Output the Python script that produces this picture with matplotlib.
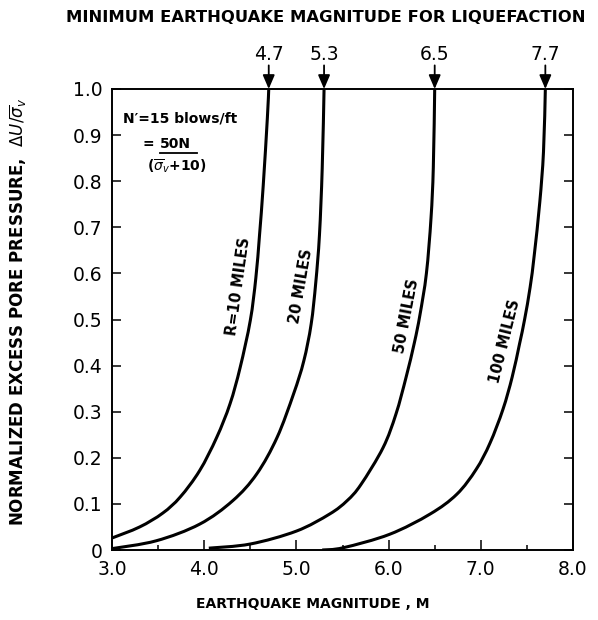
import matplotlib
matplotlib.use("Agg")
import matplotlib.pyplot as plt
from matplotlib.lines import Line2D
from matplotlib.path import Path
from matplotlib.patches import PathPatch

# ---- data ----
m10 = [3.0, 3.3, 3.55, 3.74, 3.95, 4.135, 4.28, 4.39, 4.50, 4.56, 4.60, 4.64, 4.685, 4.70]
p10 = [0.026, 0.05, 0.08, 0.115, 0.172, 0.244, 0.317, 0.396, 0.498, 0.59, 0.683, 0.79, 0.937, 1.0]

m20 = [3.0, 3.48, 3.95, 4.31, 4.57, 4.79, 4.97, 5.08, 5.16, 5.21, 5.25, 5.28, 5.30]
p20 = [0.003, 0.02, 0.056, 0.107, 0.165, 0.244, 0.339, 0.41, 0.49, 0.58, 0.683, 0.828, 1.0]

m50 = [4.05, 4.5, 5.0, 5.36, 5.55, 5.70, 5.94, 6.08, 6.19, 6.28, 6.34, 6.41, 6.46, 6.485, 6.50]
p50 = [0.004, 0.013, 0.041, 0.078, 0.107, 0.142, 0.222, 0.295, 0.375, 0.45, 0.51, 0.60, 0.72, 0.83, 1.0]

m100 = [5.28, 5.51, 6.01, 6.45, 6.74, 6.95, 7.10, 7.24, 7.34, 7.42, 7.475, 7.535, 7.58, 7.64, 7.68, 7.70]
p100 = [0.0, 0.005, 0.034, 0.078, 0.121, 0.175, 0.232, 0.305, 0.375, 0.447, 0.50, 0.57, 0.64, 0.755, 0.864, 1.0]

curve_labels = ["R=10 MILES", "20 MILES", "50 MILES", "100 MILES"]
min_magnitudes = [4.7, 5.3, 6.5, 7.7]

x_ticks = [3.0, 4.0, 5.0, 6.0, 7.0, 8.0]
x_tick_labels = ["3.0", "4.0", "5.0", "6.0", "7.0", "8.0"]
x_minor = [3.5, 4.5, 5.5, 6.5, 7.5]
y_ticks = [0.0, 0.1, 0.2, 0.3, 0.4, 0.5, 0.6, 0.7, 0.8, 0.9, 1.0]
y_tick_labels = ["0", "0.1", "0.2", "0.3", "0.4", "0.5", "0.6", "0.7", "0.8", "0.9", "1.0"]

plt.rcParams["font.family"] = ["DejaVu Sans"]
plt.rcParams["mathtext.fontset"] = "dejavusans"


def smooth_path(xs, ys):
    """Catmull-Rom curve through the data points, as cubic Bezier segments."""
    pts = list(zip(xs, ys))
    verts = [pts[0]]
    codes = [Path.MOVETO]
    n = len(pts)
    for i in range(n - 1):
        p0 = pts[i - 1] if i > 0 else pts[i]
        p1 = pts[i]
        p2 = pts[i + 1]
        p3 = pts[i + 2] if i + 2 < n else pts[i + 1]
        c1 = (p1[0] + (p2[0] - p0[0]) / 6.0, p1[1] + (p2[1] - p0[1]) / 6.0)
        c2 = (p2[0] - (p3[0] - p1[0]) / 6.0, p2[1] - (p3[1] - p1[1]) / 6.0)
        verts += [c1, c2, p2]
        codes += [Path.CURVE4] * 3
    return Path(verts, codes)


fig = plt.figure(figsize=(5.98, 6.2), dpi=100)
ax = fig.add_axes([112 / 598, 1 - 550 / 620, (573 - 112) / 598, (550 - 89) / 620])

lw = 2.2
for m, p in [(m10, p10), (m20, p20), (m50, p50), (m100, p100)]:
    ax.add_patch(PathPatch(smooth_path(m, p), facecolor="none", edgecolor="black",
                           lw=lw, capstyle="butt", transform=ax.transData))

ax.set_xlim(3.0, 8.0)
ax.set_ylim(0.0, 1.0)

ax.set_xticks(x_ticks)
ax.set_xticklabels(x_tick_labels)
ax.set_xticks(x_minor, minor=True)
ax.set_yticks(y_ticks)
ax.set_yticklabels(y_tick_labels)

ax.tick_params(axis="x", which="major", direction="in", length=7.5, width=1.1,
               labelsize=13.5, pad=7, top=False)
ax.tick_params(axis="x", which="minor", direction="in", length=3.8, width=1.1, top=False)
ax.tick_params(axis="y", which="major", direction="in", length=6.5, width=1.1,
               labelsize=13.5, pad=7, right=True)
for s in ax.spines.values():
    s.set_linewidth(1.4)

# curve labels
label_pos = [(4.37, 0.572, 82), (5.05, 0.572, 80), (6.20, 0.507, 79), (7.26, 0.452, 76)]
for txt, (x, y, rot) in zip(curve_labels, label_pos):
    ax.text(x, y, txt, rotation=rot, rotation_mode="anchor", ha="center", va="center",
            fontsize=10.5, fontweight="bold")

# top arrows with minimum magnitudes
for m in min_magnitudes:
    ax.annotate("", xy=(m, 1.0), xytext=(0, 17), textcoords="offset points",
                arrowprops=dict(arrowstyle="-|>,head_length=0.7,head_width=0.3",
                                mutation_scale=12, color="black", lw=1.3,
                                shrinkA=0, shrinkB=0))
    ax.annotate(f"{m:.1f}", xy=(m, 1.0), xytext=(0, 25), textcoords="offset points",
                ha="center", va="center", fontsize=13.5)

# annotation box text
ax.text(3.12, 0.935, "N\u2032=15 blows/ft", fontsize=10, fontweight="bold",
        ha="left", va="center")
ax.text(3.335, 0.880, "=", fontsize=10, fontweight="bold", ha="left", va="center")
ax.text(3.52, 0.880, "50N", fontsize=10, fontweight="bold", ha="left", va="center")
ax.add_line(Line2D([3.52, 3.92], [0.862, 0.862], color="black", lw=1.3))
ax.text(3.38, 0.833, r"($\overline{\sigma}_{v}$+10)", fontsize=10, fontweight="bold",
        ha="left", va="center")

# titles / axis labels
fig.text(326 / 598, 1 - 17 / 620, "MINIMUM EARTHQUAKE MAGNITUDE FOR LIQUEFACTION",
         ha="center", va="center", fontsize=11.8, fontweight="bold")
fig.text(313 / 598, 1 - 604 / 620, "EARTHQUAKE MAGNITUDE , M",
         ha="center", va="center", fontsize=10, fontweight="bold")
fig.text(18 / 598, 1 - 312 / 620,
         r"NORMALIZED EXCESS PORE PRESSURE,  $\Delta U/\overline{\sigma}_{v}$",
         rotation=90, ha="center", va="center", fontsize=12, fontweight="bold")

fig.savefig("out.png", dpi=100, facecolor="white")
